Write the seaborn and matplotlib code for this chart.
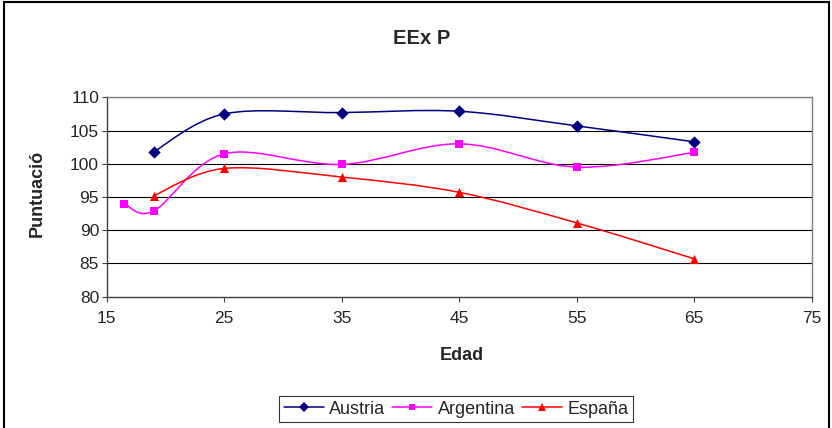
import matplotlib
matplotlib.use('Agg')
import seaborn as sns
import pandas as pd
import numpy as np
import matplotlib.pyplot as plt
from matplotlib.path import Path
from matplotlib.patches import PathPatch, Rectangle
from matplotlib.lines import Line2D

edad_austria = [19, 25, 35, 45, 55, 65]
austria = [101.8, 107.5, 107.7, 107.9, 105.7, 103.3]
edad_argentina = [16.5, 19, 25, 35, 45, 55, 65]
argentina = [94.0, 92.9, 101.5, 99.9, 103.0, 99.5, 101.7]
edad_espana = [19, 25, 35, 45, 55, 65]
espana = [95.2, 99.3, 98.0, 95.7, 91.1, 85.7]

series = [
    ("Austria", edad_austria, austria, "#000080", "D", 6.3),
    ("Argentina", edad_argentina, argentina, "#FF00FF", "s", 5.6),
    ("España", edad_espana, espana, "#FF0000", "^", 6.6),
]


def smooth_path(x, y):
    # Excel-like smoothed line: cubic bezier with catmull-rom control points
    pts = np.column_stack([x, y]).astype(float)
    n = len(pts)
    verts = [pts[0]]
    codes = [Path.MOVETO]
    for i in range(n - 1):
        p0 = pts[i - 1] if i > 0 else pts[i]
        p1 = pts[i]
        p2 = pts[i + 1]
        p3 = pts[i + 2] if i + 2 < n else pts[i + 1]
        c1 = p1 + (p2 - p0) / 6.0
        c2 = p2 - (p3 - p1) / 6.0
        verts += [c1, c2, p2]
        codes += [Path.CURVE4] * 3
    return Path(verts, codes)


sns.set_style("white")
plt.rcParams['font.family'] = ['Liberation Sans', 'DejaVu Sans']

fig = plt.figure(figsize=(8.32, 4.28), dpi=100)
ax = fig.add_axes([106.7 / 832, 1 - 296.7 / 428, (811.7 - 106.7) / 832, (296.7 - 97.3) / 428])

for name, xs, ys, col, mk, ms in series:
    ax.add_patch(PathPatch(smooth_path(xs, ys), facecolor='none', edgecolor=col, lw=1.1, zorder=3))
    df = pd.DataFrame({"Edad": xs, "Puntuacio": ys})
    sns.scatterplot(data=df, x="Edad", y="Puntuacio", ax=ax, color=col, marker=mk,
                    s=ms ** 2, edgecolor=col, linewidth=0, zorder=4, legend=False)

ax.set_xlim(15, 75)
ax.set_ylim(80, 110)
ax.set_xticks(range(15, 76, 10))
ax.set_yticks(range(80, 111, 5))
for v in range(85, 111, 5):
    ax.axhline(v, color='black', lw=0.8, zorder=1)
for s in ['top', 'right']:
    ax.spines[s].set_color('#808080')
for s in ['left', 'bottom']:
    ax.spines[s].set_color('#404040')
for s in ax.spines.values():
    s.set_linewidth(1.0)
ax.tick_params(axis='both', direction='out', length=3.5, width=0.8, color='#404040',
               labelsize=12.5, bottom=True, left=True, pad=2)
ax.tick_params(axis='x', pad=7)
ax.set_xlabel("Edad", fontsize=13, fontweight='bold')
ax.set_ylabel("Puntuació", fontsize=13, fontweight='bold')
ax.xaxis.set_label_coords(0.503, -0.297)
ax.xaxis.label.set_va('center')
ax.yaxis.set_label_coords(-0.099, 0.517)
ax.yaxis.label.set_va('center')

fig.text(422 / 832, 1 - 38 / 428, "EEx P", ha='center', va='center', fontsize=14.5, fontweight='bold')

handles = [Line2D([], [], color=col, marker=mk, markersize=ms - 1, lw=1.1, markeredgewidth=0)
           for name, xs, ys, col, mk, ms in series]
labels = [s[0] for s in series]
leg = fig.legend(handles, labels, loc='center', bbox_to_anchor=(456 / 832, 1 - 409 / 428),
                 ncol=3, fontsize=13, frameon=True, fancybox=False, edgecolor='black',
                 handlelength=2.2, columnspacing=0.4, handletextpad=0.3, borderpad=0.25,
                 borderaxespad=0)
leg.get_frame().set_linewidth(0.8)

fig.patches.append(Rectangle((4 / 832, -0.05), 825 / 832, 1.05 - 2 / 428, transform=fig.transFigure,
                             fill=False, edgecolor='black', lw=1.5))

fig.savefig("out.png", dpi=100)
plt.close()
